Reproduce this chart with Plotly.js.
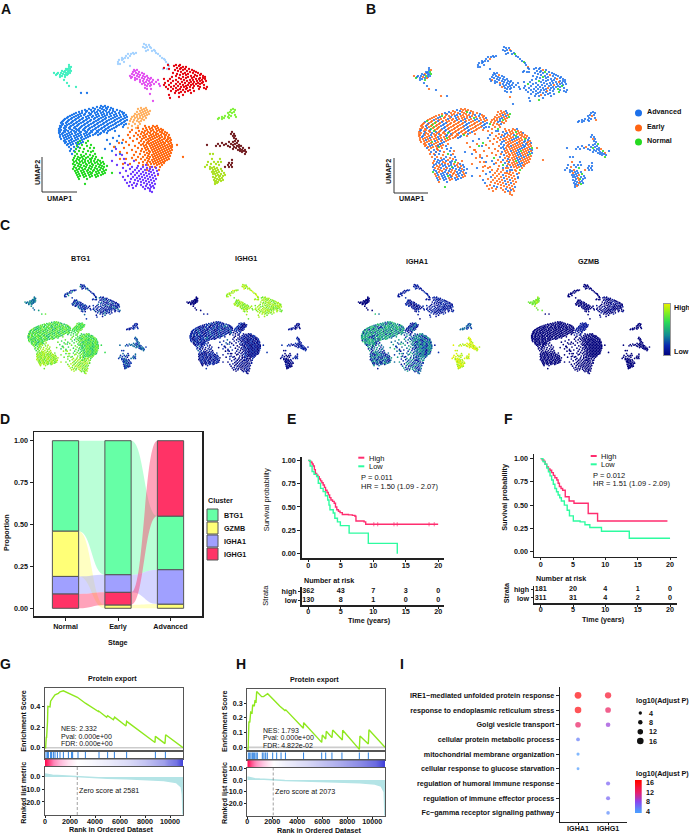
<!DOCTYPE html>
<html><head><meta charset="utf-8"><script src="https://cdn.plot.ly/plotly-3.0.0.min.js"></script>
<style>html,body{margin:0;padding:0;background:#fff}#c{width:689px;height:834px}</style></head>
<body><div id="c"></div><script>
// ---------- UMAP embedding, estimated cell positions: [UMAP2, UMAP1, UMAP1, ...] ----------
const blueRows=[[11,-49,-45],[10,-53,-47,-42],[9,-57,-50,-44,-39],[8,-61,-55,-48,-43,-37],[7,-65,-59,-52,-46,-40,-33],[6,-68,-63,-56,-50,-44,-37,-30],[5,-71,-64,-58,-53,-47,-41,-35,-28],
[4,-74,-68,-61,-55,-49,-43,-38,-31,-26],[3,-76,-70,-65,-59,-52,-46,-40,-34,-27],[2,-78,-72,-66,-60,-54,-48,-43,-36,-30,-24],[1,-80,-74,-69,-62,-57,-51,-45,-39,-33,-26],[0,-82,-76,-71,-64,-58,-53,-47,-41,-35,-29,-23],
[-1,-83,-78,-72,-67,-61,-55,-49,-44,-37,-31,-25],[-2,-85,-79,-74,-68,-63,-56,-51,-45,-39,-33,-27],[-3,-86,-81,-75,-70,-64,-59,-52,-47,-41,-35,-29,-23],[-4,-87,-82,-77,-71,-66,-60,-54,-48,-43,-36,-30,-25],
[-5,-88,-83,-78,-73,-67,-62,-56,-50,-44,-38,-32,-26],[-6,-89,-84,-79,-74,-69,-63,-57,-52,-46,-40,-34,-28],[-7,-87,-81,-76,-71,-65,-59,-53,-47,-42,-35,-29,-24],[-8,-88,-83,-77,-72,-66,-61,-55,-49,-43,-37,-31,-26],
[-9,-90,-85,-79,-73,-68,-62,-56,-51,-45,-39,-33],[-10,-89,-84,-80,-75,-69,-64,-58,-52,-46,-41,-34,-27],[-11,-90,-86,-81,-76,-70,-65,-60,-54,-48,-42,-36],[-12,-91,-85,-80,-74,-71,-66,-61,-55,-49,-44,-38],
[-13,-89,-84,-78,-73,-67,-62,-57,-51,-45,-40],[-14,-91,-86,-82,-76,-71,-65,-59,-53,-47,-42,-35],[-15,-90,-85,-79,-74,-69,-63,-58,-52,-46],[-16,-91,-87,-81,-75,-70,-64,-60,-54,-49,-43],[-17,-88,-83,-78,-72,-66,-61,-55,-50],
[-18,-90,-85,-80,-74,-69,-63,-57,-52],[-19,-87,-82,-76,-71,-65,-60,-31],[-20,-90,-84,-79,-73,-68,-62],[-21,-86,-81,-75,-69,-64,-37],[-22,-89,-83,-78,-72,-66],[-23,-85,-79,-74,-68,-43],[-24,-86,-81,-76,-70,-33],[-25,-84,-78,-72,-67],
[-26,-85,-80,-74,-69,-28],[-27,-82,-77,-71,-40],[-28,-83,-79,-73],[-30,-81,-76,-72,-35],[-32,-79,-74,-45],[-34,-80,-76,-38],[-37,-78,-30],[24,-69,-63]];
const greenRows=[[-24,-70,-62],[-26,-72,-64],[-28,-68,-59],[-29,-73,-63],[-31,-70,-60,-56],[-32,-74,-66],[-34,-71,-62,-57],[-35,-75,-67,-59],[-37,-73,-64,-55],[-38,-69,-60],[-39,-75,-66,-57],
[-40,-72,-68,-62,-54],[-41,-76,-70,-64,-58,-48],[-42,-73,-67,-60,-55],[-43,-77,-71,-65,-59,-52],[-44,-74,-68,-62,-56,-50],[-45,-76,-70,-65,-59,-53,-47],[-46,-73,-67,-61,-55,-49],[-47,-77,-71,-64,-58,-52,-46],
[-48,-75,-69,-63,-57,-50],[-49,-72,-66,-60,-54,-48,-43],[-50,-76,-70,-64,-58,-51,-46],[-51,-74,-68,-61,-55,-49],[-52,-77,-71,-65,-59,-53,-47],[-53,-73,-67,-62,-56,-50,-44],[-54,-75,-69,-63,-57,-52,-46],[-55,-72,-66,-60,-54,-48],
[-56,-74,-68,-62,-58,-51,-45,-38],[-57,-71,-65,-59,-53,-47],[-58,-73,-67,-61,-55,-49],[-59,-70,-64,-58,-52],[-60,-72,-66,-60,-54],[-62,-71,-63],[-67,-65]];
const orangeRows=[[-9,-5,3,7],[-10,-1,5],[-11,-12,-4,2,8],[-12,-7,0,6,11],[-13,-18,-3,3,9,13],[-14,-11,-5,1,7,12],[-15,-20,-8,-2,4,10,15],[-16,-14,-6,0,6,12,17],[-17,-9,-3,3,8,14],[-18,-22,-12,-5,1,6,11,16,19],[-19,-16,-7,-1,4,9,15],
[-20,-10,-4,2,7,12,18],[-21,-20,-6,0,5,10,15,20],[-22,-13,-8,-2,3,9,14,18],[-23,-27,-4,1,7,12,17,21],[-24,-17,-9,-1,5,10,16,20],[-25,-24,-6,-2,3,8,13,18],[-26,-31,-11,-3,1,6,11,15,21],[-27,-7,-1,4,9,14,19],[-28,-21,-9,-4,2,7,12,17,22,27],
[-29,-15,-6,0,5,10,15,20],[-30,-36,-3,3,8,13,18,22],[-31,-26,-12,-5,1,6,11,16,21],[-32,-8,-2,4,9,14,19],[-33,-18,-4,2,7,12,17,22],[-34,-9,-1,5,10,15,20],[-35,-30,-14,-6,0,3,8,13,18],[-36,-23,-3,6,11,16,21],[-37,-10,-1,4,9,14,19],
[-38,-16,-5,2,7,12,17],[-39,-2,5,10,15,20],[-40,-12,-7,0,3,8,13,18,33],[-41,-18,-3,6,11,16],[-42,-24,-30,-9,-1,4,9,14,19],[-43,-14,-5,2,7,12,17],[-44,-2,5,10,15],[-45,-7,0,3,8,13],[-46,-11,-3,6,11,14],[-47,-20,-27,1,4,9],[-48,-7,-2,7,12],[-50,0,5,10],[-53,-3,9],[-58,8]];
const violetRows=[[-32,-34],[-38,-34,-28],[-42,-26],[-44,-38,-16],[-46,-25],[-48,-33,-22,-4],[-49,-12],[-50,-18,-7,2],[-51,-27,-13,-3,6],[-52,-20,-9,0],[-53,-15,-5,3],[-54,-24,-11,-1,7],[-55,-17,-7,1],[-56,-30,-13,-4,4],[-57,-19,-9,-1,8],[-58,-15,-6,2],
[-59,-22,-11,-3,5],[-60,-27,-17,-8,0],[-61,-13,-5,3],[-62,-19,-10,-2,6],[-63,-25,-15,-7,1],[-64,-12,-4,4],[-65,-20,-9,-1],[-66,-23,-16,-6,2],[-67,-13,-3,5],[-68,-18,-9,0],[-69,-21,-14,-4,3],[-70,-7,1],[-71,-17,-2,4],[-72,-5,0],[-74,0],[-75,2]];
const peachRows=[[9,-9,-4],[8,-12,-6],[7,-3,-8],[6,-10,-5,0],[5,-13,-7,-2],[4,-9,-4],[3,-15,-11,-6,-1],[2,-13,-8,-3],[1,-16,-10,-5],[0,-18,-13,-7],[-1,-15,-10,-4],[-2,-19,-12,-8],[-3,-16,-6],[-4,-20,-13,-9],[-5,-17,-11],[-7,-21,-15,-10],[-9,-18,-12],[-11,-22,-14]];
const tealRows=[[52,-81],[50,-81,-79],[48,-84,-82,-80],[47,-83],[46,-88,-85,-81,-79],[45,-86,-82],[44,-96,-92,-89,-84,-80],[43,-93,-87,-82],[42,-94,-90,-85,-83],[41,-88],[40,-90,-85],[37,-86],[34,-83],[31,-81],[30,-74]];
const lightblueRows=[[73,-6],[72,-4,-1],[70,-7,-3,0],[69,-5,1],[67,-2,4],[66,-4,2,5],[64,-17,-14,6],[63,-22,-19,-16,8],[61,-24,-20,10],[59,-28,-25,-22,12],[58,-27,14],[57,-31,-28,15],[55,-32,-26,16],[53,-32,-30,18],[51,-20,19],[48,13,17]];
const magentaRows=[[47,-16,-13],[46,-15],[45,-17,-11],[44,-14,-8],[43,-18,-12,-6],[42,-16,-10],[41,-20,-13,-7,-3],[40,-18,-11,-5],[39,-19,-15,-8,-2,1],[38,-13,-6,0],[37,-15,-10,-3,3,8],[36,-7,-1],[35,-10,-4,2,6],[34,-6,0],[33,-8,-2,4,9],[32,-5,1],[31,-3,0,10],[29,-5],[28,-3,1],[23,0],[16,3]];
const redRows=[[52,18,26,30],[51,24,29],[50,33,36],[49,14,27,31],[48,19,30,35,39],[47,25,33,42],[46,28,37,44],[45,31,40,46],[44,23,35,43,48],[43,27,33,38,51],[42,30,36,45,50],[41,26,41,47,53],[40,22,33,38,44,55],[39,29,36,42,50,53],[38,14,20,31,46,49,55],[37,26,34,40,43,52],
[36,18,23,37,47,50,56],[35,28,32,41,44,53],[34,15,21,35,39,48,52],[33,26,30,43,46,50],[32,14,19,33,38,41,54],[31,24,28,36,44,48],[30,16,21,31,34,40,50,57],[29,26,37,43,54],[28,18,23,30,36,49,56],[27,28,33,40],[26,21,26,38,44],[25,31,35],[24,25,29,41],[22,19,33],[20,29],[19,20]];
const limeRows=[[8,83],[7,81,85],[5,80,84],[4,78,82],[2,79,85],[1,75,81],[0,72,78,86],[-1,69,74,79],[-2,68,72]];
const maroonRows=[[-15,82],[-17,81,84],[-19,83,85],[-21,84],[-22,86],[-24,85,88],[-25,79,83],[-26,72,87],[-27,68,76,81,85],[-28,57,74,83,89],[-29,66,70,78,87,91],[-30,84,80,89],[-31,86,93,99],[-32,83,90],[-33,88,92,95],[-34,90,94],[-35,92,96],[-37,95],[-43,82],[-46,79,82],[-48,78,81],[-50,75,79,82]];
const ygRows=[[-37,60,63],[-42,62,70],[-45,58,64,68,71],[-47,61,66],[-48,57,69],[-50,55,60,64],[-51,67,62],[-52,60,65,71],[-53,63,68],[-54,66,72],[-55,62,64,69],[-56,67,74],[-57,63,65,71],[-58,68,75],[-59,66,70,73],[-60,63,69],[-61,65,72],[-62,67,70],[-63,64,69,73],[-64,66,71],[-65,65,68],[-66,67],[-67,65]];
const umapRows=[blueRows,greenRows,orangeRows,violetRows,peachRows,tealRows,lightblueRows,magentaRows,redRows,limeRows,maroonRows,ygRows];
const clusterColors=['#1c76ea','#22d91f','#ff650c','#6b35ff','#ffb060','#3ff0c0','#a4d2ff','#e24ff0','#e4000c','#80f23a','#701a1e','#aae01e'];
// stage of the cells in each cluster (A advanced, E early, N normal)
const stageStrings=['EEAEEEAEEAEENEAEEEAEEAEA','AEAAEAEAAAEAEANEAEAEAAEEA','EEAEEAEEEAENEEAEEAEAE','EEAEEAEAEEE','EAEEAEEEN','AAEAANAAEAN','AAAAAEAAAAAANAAA','AAAAEAAAAAAA','AAAAAEAAAAAANAAA','AAAAAAE','AAAEAAAANAA','AAEAAAAAEAAN'];
const stageColors={A:'#1c70ea',E:'#ff6412',N:'#25da20'};
// scaled expression digits for each cluster
const exprBTG1=['67576767567','78878887','676577676','78887877','66767','343','122412','212132','121312','121','323','2231'];
const exprIGHG1=['120212311','1012','10201','1010','201','0','887898','78878','878788','101','1211','010'];
const exprIGHA1=['4534541354','31431','343142','2314','131','0','1121','1012','1211','323','98989','9898'];
const exprGZMB=['0','0','0','0','1','8777','0','0','0100','0','0','0'];
const exprScale=[[0,'#00007c'],[.2,'#0a28b0'],[.4,'#118a94'],[.65,'#2bdc55'],[.85,'#8cf01e'],[1,'#e0f000']];
const geneTitles=['BTG1','IGHG1','IGHA1','GZMB'];
const barLevels=[0,.2,.4,.6,.8,1];
// ---------- D: proportions ----------
const stages=['Normal','Early','Advanced'];
const clusterNames=['BTG1','GZMB','IGHA1','IGHG1'];
const propBTG1=[.54,.80,.32];
const propGZMB=[.27,.02,.025];
const propIGHA1=[.105,.105,.205];
const propIGHG1=[.085,.075,.45];
const stackOrder=[['IGHG1','IGHA1','GZMB','BTG1'],['GZMB','IGHG1','IGHA1','BTG1'],['GZMB','IGHA1','BTG1','IGHG1']];
const clusterFill=['#66ffa6','#ffff77','#a0a0ff','#ff3366'];
// ---------- E / F: survival ----------
const eHighT=[0,.2,.41,.6,.77,.95,1.1,1.3,1.5,1.7,1.9,2.1,2.3,2.5,2.67,2.9,3.1,3.3,3.5,3.75,4,4.2,4.4,4.65,4.9,5.25,6.2,6.8,7.2,7.35,8.6,8.85,20];
const eHighS=[1,.99,.98,.96,.94,.90,.86,.84,.825,.80,.78,.76,.735,.71,.68,.655,.63,.60,.575,.56,.54,.50,.47,.455,.44,.42,.415,.41,.40,.35,.34,.315,.315];
const eLowT=[0,.3,.6,.9,1.3,1.55,1.9,2.3,2.65,3,3.2,3.35,3.85,4.1,4.5,4.95,6.3,9.25,13.7,13.71];
const eLowS=[1,.94,.88,.85,.825,.755,.70,.665,.62,.575,.52,.47,.435,.38,.34,.30,.22,.11,.11,0];
const eCensorT=[10.1,10.7,13.2,13.7,18.6,19.4];
const eRiskHigh=[362,43,7,3,0];
const eRiskLow=[130,8,1,0,0];
const fHighT=[0,.25,.5,.7,.93,1.2,1.44,1.7,1.96,2.2,2.5,2.7,2.9,3.15,3.4,3.8,4.4,5.15,7.35,8.8,19.6];
const fHighS=[1,.985,.97,.94,.91,.89,.875,.85,.82,.795,.77,.735,.70,.68,.66,.59,.545,.52,.41,.33,.33];
const fLowT=[0,.35,.67,.95,1.2,1.45,1.7,1.95,2.2,2.45,2.7,2.95,3.2,3.66,4.1,4.45,5.05,6.1,6.85,7.6,9.4,13.7,20];
const fLowS=[1,.97,.94,.90,.86,.815,.77,.725,.68,.645,.61,.58,.545,.50,.445,.385,.33,.32,.29,.26,.22,.145,.145];
const fRiskHigh=[181,20,4,1,0];
const fRiskLow=[311,31,4,2,0];
const riskTimes=[0,5,10,15,20];
// ---------- G / H: GSEA ----------
const gRank=[0,50,100,130,200,230,400,450,610,800,1070,1200,1470,1870,2210,2590,3230,4270,4290,4930,5010,5470,5570,6480,6530,8800,8830,9600,9650,11040];
const gES=[0,0,.10,.10,.25,.40,.395,.45,.48,.51,.525,.54,.55,.525,.51,.487,.43,.35,.355,.295,.31,.27,.295,.21,.255,.05,.11,.04,.125,0];
const gHits=[80,190,270,450,530,670,800,990,1200,1470,1870,2130,2210,2640,3230,4320,5010,5550,6530,8830,9630];
const gMetricX=[0,300,600,1000,1500,2000,2581,3500,5000,6500,8000,9500,10500,10900,10990,11040];
const gMetric=[2.4,1.8,1.4,1.1,.8,.4,0,-.5,-1,-1.4,-1.9,-2.8,-4.4,-8,-14,-30];
const gBarX=[0,300,700,1200,1800,2581,3500,5000,6500,8000,9500,10500,11040];
const gBar=[1,.8,.55,.35,.15,0,-.03,-.1,-.18,-.28,-.42,-.65,-1];
const hRank=[0,60,130,200,270,380,430,560,610,700,750,1150,1300,1470,1630,2610,3010,3080,4480,4510,5950,6000,6270,6320,6770,6830,7600,7630,8960,9010,9680,9730,11013];
const hES=[0,-.02,.175,.17,.24,.235,.29,.28,.315,.31,.38,.345,.345,.355,.365,.28,.25,.255,.13,.168,.034,.084,.057,.11,.066,.118,.05,.116,-.014,.077,.023,.12,0];
const hHits=[80,190,290,400,480,590,700,800,1200,1330,1470,1600,2030,2350,2700,3050,4500,5950,6270,6770,7570,8960,9680];
const hMetricX=[0,300,600,1000,1500,2073,3000,4500,6000,7500,9000,10200,10700,10950,11013];
const hMetric=[2.6,1.7,1.2,.8,.4,0,-.4,-.8,-1.2,-1.6,-2.2,-3.4,-5,-10,-31];
const hBarX=[0,300,700,1200,1700,2073,3000,4500,6000,7500,9000,10200,11013];
const hBar=[1,.75,.5,.3,.12,0,-.08,-.18,-.28,-.38,-.5,-.7,-1];
const gseaScale=[[0,'#3c3cd8'],[.25,'#8a8ae6'],[.4,'#d8d8f6'],[.5,'#ffffff'],[.65,'#ffc4e0'],[.8,'#ff80b4'],[1,'#ff0a50']];
// ---------- I: dot plot ----------
const terms=['IRE1−mediated unfolded protein response','response to endoplasmic reticulum stress','Golgi vesicle transport','cellular protein metabolic process','mitochondrial membrane organization','cellular response to glucose starvation','regulation of humoral immune response','regulation of immune effector process','Fc−gamma receptor signaling pathway'];
const ighaTerms=[0,1,2,3,4,5];
const ighaP=[16.4,16,12.4,5.5,3.2,2];
const ighgTerms=[0,1,2,6,7,8];
const ighgP=[14.8,12.6,8.6,6.8,6.6,4.8];
const sizeLegend=[4,8,12,16];
const colorLevels=[3,4,6,8,10,12,14,16,17.1];
const dotScale=[[0,'#4d9bff'],[.07,'#4d9bff'],[.35,'#8a45ee'],[.64,'#e81f6a'],[.92,'#ff0b10'],[1,'#ff0000']];

const W=689,H=834,F='Liberation Sans, Arial, sans-serif';
const fx=p=>p/W, fy=p=>1-p/H;
const layout={width:W,height:H,margin:{l:0,r:0,t:0,b:0},autosize:false,showlegend:false,paper_bgcolor:'#fff',plot_bgcolor:'rgba(0,0,0,0)',barmode:'overlay',annotations:[],shapes:[],font:{family:F,size:7,color:'#111'}};
const traces=[];
const tf={family:F,size:7.2,color:'#111',weight:700};
function panel(n,x0,x1,y0,y1,xa,ya){
 layout['xaxis'+n]=Object.assign({domain:[fx(x0),fx(x1)],anchor:'y'+n,showgrid:false,zeroline:false,tickfont:tf,ticklen:3,tickwidth:1,tickcolor:'#222'},xa);
 layout['yaxis'+n]=Object.assign({domain:[fy(y1),fy(y0)],anchor:'x'+n,showgrid:false,zeroline:false,tickfont:tf,ticklen:3,tickwidth:1,tickcolor:'#222'},ya);
 return {xaxis:'x'+n,yaxis:'y'+n};
}
function T(t,x,y,o={}){layout.annotations.push({text:t,x:fx(x),y:fy(y),xref:'paper',yref:'paper',showarrow:false,xanchor:o.a||'center',yanchor:'middle',textangle:o.r||0,font:{family:F,size:o.s||7.2,color:o.c||'#111',weight:o.w===undefined?700:o.w}});}
function L(x0,y0,x1,y1,c,w,d){layout.shapes.push({type:'line',xref:'paper',yref:'paper',x0:fx(x0),x1:fx(x1),y0:fy(y0),y1:fy(y1),line:{color:c,width:w,dash:d||'solid'}});}
function R(x0,y0,x1,y1,fill,lc,lw){layout.shapes.push({type:'rect',xref:'paper',yref:'paper',x0:fx(x0),x1:fx(x1),y0:fy(y0),y1:fy(y1),fillcolor:fill,line:{color:lc,width:lw}});}
function C(cx,cy,d,fill){layout.shapes.push({type:'circle',xref:'paper',yref:'paper',x0:fx(cx-d/2),x1:fx(cx+d/2),y0:fy(cy-d/2),y1:fy(cy+d/2),fillcolor:fill,line:{width:0}});}
const hidden={visible:false};

// flatten embedding
const U=[],V=[],CL=[],IDX=[];
umapRows.forEach((rows,c)=>{let i=0;rows.forEach(r=>{for(let k=1;k<r.length;k++){U.push(r[k]);V.push(r[0]);CL.push(c);IDX.push(i++);}});});
const pick=(arr)=>CL.map((c,i)=>{const s=arr[c];return s[IDX[i]%s.length];});
// A
let a=panel(1,0,345,30,205,Object.assign({range:[-150,195]},hidden),Object.assign({range:[-88,87]},hidden));
traces.push(Object.assign({type:'scatter',mode:'markers',x:U,y:V,marker:{size:2.3,color:CL.map(c=>clusterColors[c]),line:{width:0}},hoverinfo:'skip'},a));
// B
a=panel(2,360,689,33,208,Object.assign({range:[-150,179]},hidden),Object.assign({range:[-88,87]},hidden));
traces.push(Object.assign({type:'scatter',mode:'markers',x:U,y:V,marker:{size:2.2,color:pick(stageStrings).map(s=>stageColors[s]),line:{width:0}},hoverinfo:'skip'},a));
// C
[[88,exprBTG1],[250,exprIGHG1],[421.5,exprIGHA1],[591.5,exprGZMB]].forEach((g,i)=>{
 const b=panel(3+i,g[0]-80,g[0]+80,329-54,329+54,Object.assign({range:[5.5-129,5.5+129]},hidden),Object.assign({range:[-91,89]},hidden));
 traces.push(Object.assign({type:'scatter',mode:'markers',x:U,y:V,marker:{size:1.7,color:pick(g[1]).map(Number),cmin:0,cmax:9,colorscale:exprScale,line:{width:0}},hoverinfo:'skip'},b));
});
[[80,258.7],[246,258.7],[417.3,261.7],[588,261.7]].forEach((p,i)=>T(geneTitles[i],p[0],p[1]));
// expression colour key
a=panel(21,664,670,304,355,Object.assign({range:[0,1],showline:true,mirror:true,linecolor:'#999',linewidth:1,showticklabels:false,ticks:''}),{range:[0,1],showline:true,mirror:true,linecolor:'#999',linewidth:1,showticklabels:false,ticks:''});
traces.push(Object.assign({type:'heatmap',x:[0,1],y:barLevels,z:barLevels.map(v=>[v,v]),zmin:0,zmax:1,colorscale:exprScale,showscale:false,zsmooth:'best',hoverinfo:'skip'},a));
T('High',672,308,{a:'left'});T('Low',672,351,{a:'left'});
// UMAP arrows
L(42,157,42,192,'#333',1);L(42,192,77,192,'#333',1);T('UMAP1',59,199);T('UMAP2',37,173,{r:-90});
L(394,158,394,193,'#333',1);L(394,193,428,193,'#333',1);T('UMAP1',411,199);T('UMAP2',388,172,{r:-90});
[['Advanced','A',113],['Early','E',128],['Normal','N',142]].forEach(r=>{C(638.5,r[2],7,stageColors[r[1]]);T(r[0],644.5,r[2]-1.5,{a:'left'});});
// D
a=panel(7,34,202,432,616,{range:[-.6,2.6],tickvals:[0,1,2],ticktext:stages,ticks:'outside',showline:true,mirror:true,linecolor:'#222',linewidth:1.5},{range:[-.046,1.052],tickvals:[0,.25,.5,.75,1],ticktext:['0.00','0.25','0.50','0.75','1.00'],ticks:'outside',showline:true,mirror:true,linecolor:'#222',linewidth:1.5});
const propBy={BTG1:propBTG1,GZMB:propGZMB,IGHA1:propIGHA1,IGHG1:propIGHG1};
const base={};clusterNames.forEach(n=>base[n]=[0,0,0]);
stackOrder.forEach((ord,s)=>{let acc=0;ord.forEach(n=>{base[n][s]=acc;acc+=propBy[n][s];});});
clusterNames.forEach((n,k)=>{
 for(let s=0;s<2;s++){
  const x0=s+.25,x1=s+.75,m=s+.5;
  const t0=base[n][s]+propBy[n][s],t1=base[n][s+1]+propBy[n][s+1],b0=base[n][s],b1=base[n][s+1];
  layout.shapes.push({type:'path',layer:'below',xref:'x7',yref:'y7',path:`M ${x0} ${t0} C ${m} ${t0} ${m} ${t1} ${x1} ${t1} L ${x1} ${b1} C ${m} ${b1} ${m} ${b0} ${x0} ${b0} Z`,fillcolor:clusterFill[k],opacity:.45,line:{width:0}});
 }
 traces.push(Object.assign({type:'bar',x:[0,1,2],y:propBy[n],base:base[n],width:.5,marker:{color:clusterFill[k],line:{color:'#555',width:1}},hoverinfo:'skip'},a));
});
T('Proportion',6,533,{r:-90});T('Stage',118,642);T('Cluster',206,500,{a:'left'});
clusterNames.forEach((n,k)=>{const y=[515,528,541,554][k];R(207,y-6,218,y+6,clusterFill[k],'#555',1);T(n,222,y,{a:'left'});});
// survival
const survAxes=(xr,yr)=>[{range:xr,tickvals:riskTimes,ticks:'outside',ticklen:2,ticklabelstandoff:-2,showline:true,linecolor:'#222',linewidth:1.5},{range:yr,tickvals:[0,.25,.5,.75,1],ticktext:['0.00','0.25','0.50','0.75','1.00'],ticks:'outside',showline:true,linecolor:'#222',linewidth:1.5}];
const HI='#ff2d6f',LO='#2dfca0';
function line(x,y,c,w,ax,shape){traces.push(Object.assign({type:'scatter',mode:'lines',x,y,line:{color:c,width:w,shape:shape||'hv'},hoverinfo:'skip'},ax));}
function risk(n,x0,x1,y0,y1,xr,yr,hi,lo){
 const b=panel(n,x0,x1,y0,y1,{range:xr,tickvals:riskTimes,ticks:'outside',ticklen:2,ticklabelstandoff:-3,showline:true,linecolor:'#222',linewidth:1.5},{range:yr,tickvals:[1,0],ticktext:['high','low'],ticks:'outside',ticklen:2,showline:true,linecolor:'#222',linewidth:1.5});
 traces.push(Object.assign({type:'scatter',mode:'text',x:riskTimes,y:riskTimes.map(()=>1),text:hi.map(String),textfont:tf,textposition:'middle center',hoverinfo:'skip',cliponaxis:false},b));
 traces.push(Object.assign({type:'scatter',mode:'text',x:riskTimes,y:riskTimes.map(()=>0),text:lo.map(String),textfont:tf,textposition:'middle center',hoverinfo:'skip',cliponaxis:false},b));
}
let sa=survAxes([-1,20.9],[-.05,1.039]);a=panel(8,301.7,444,456.7,558.3,sa[0],sa[1]);
line(eHighT,eHighS,HI,1.4,a);line(eLowT,eLowS,LO,1.4,a);
traces.push(Object.assign({type:'scatter',mode:'markers',x:eCensorT,y:eCensorT.map(()=>.315),marker:{symbol:'line-ns-open',size:3,color:HI,line:{color:HI,width:.7}},hoverinfo:'skip'},a));
risk(9,301.7,444,586.7,605,[-1,20.9],[-.57,1.53],eRiskHigh,eRiskLow);
L(358.3,457.7,364.3,457.7,HI,2);L(358.3,466.3,364.3,466.3,LO,2);T('High',366.7,458,{a:'left',w:400,s:7.5});T('Low',366.7,466.5,{a:'left',w:400,s:7.5});
T('P = 0.011',359,477,{a:'left',w:400,s:7.5});T('HR = 1.50 (1.09 - 2.07)',359,486.3,{a:'left',w:400,s:7.5});
T('Survival probability',266.3,500,{r:-90,w:400,s:7.5});T('Number at risk',301.7,580.3,{a:'left'});T('Strata',266,595.7,{r:-90,w:400,s:7.5});T('Time (years)',369.7,620);
sa=survAxes([-1.03,21.03],[-.054,1.047]);a=panel(10,534,676.7,454.3,556.7,sa[0],sa[1]);
line(fHighT,fHighS,HI,1.4,a);line(fLowT,fLowS,LO,1.4,a);
risk(11,534,676.7,585.7,603.3,[-1.03,21.03],[-.64,1.48],fRiskHigh,fRiskLow);
L(590.7,456,596.7,456,HI,2);L(590.7,464.3,596.7,464.3,LO,2);T('High',599,456.3,{a:'left',w:400,s:7.5});T('Low',599,464.5,{a:'left',w:400,s:7.5});
T('P = 0.012',591,475,{a:'left',w:400,s:7.5});T('HR = 1.51 (1.09 - 2.09)',591,484,{a:'left',w:400,s:7.5});
T('Survival probability',505,497.7,{r:-90});T('Number at risk',534.3,578.7,{a:'left'});T('Strata',506,593.3,{r:-90});T('Time (years)',603,619);
// GSEA
function gsea(n,p){
 const xr=[0,p.xmax];const box={showline:true,mirror:true,linecolor:'#555',linewidth:1.2};
 let b=panel(n,p.x0,p.x1,p.es[0],p.es[1],Object.assign({range:xr,showticklabels:false,ticks:''},box),Object.assign({range:p.esr,tickvals:p.est,ticktext:p.estt,ticks:'outside',ticklen:2},box));
 line(xr,[0,0],'#cccccc',1.6,b,'linear');
 line(p.rank,p.es_,'#8fe81e',1.4,b,'linear');
 b=panel(n+1,p.x0,p.x1,p.rug[0],p.rug[1],Object.assign({range:xr,showticklabels:false,ticks:''},box),Object.assign({range:[0,1],showticklabels:false,ticks:''},box));
 const rx=[],ry=[];p.hits.forEach(h=>{rx.push(h,h,null);ry.push(0,1,null);});
 line(rx,ry,'#2a7fe0',1,b,'linear');
 b=panel(n+2,p.x0,p.x1,p.bar[0],p.bar[1],{range:xr,showticklabels:false,ticks:''},{range:[0,1],showticklabels:false,ticks:''});
 traces.push(Object.assign({type:'heatmap',x:p.barX,y:[0,1],z:[p.barZ,p.barZ],zmin:-1,zmax:1,colorscale:gseaScale,showscale:false,zsmooth:'best',hoverinfo:'skip'},b));
 b=panel(n+3,p.x0,p.x1,p.m[0],p.m[1],Object.assign({range:xr,tickvals:[0,2000,4000,6000,8000,10000],tickformat:'d',ticks:'outside',ticklen:2,ticklabelstandoff:-3},box),Object.assign({range:p.mr,tickvals:p.mt,ticktext:p.mtt,ticks:'outside',ticklen:2},box));
 traces.push(Object.assign({type:'scatter',mode:'lines',x:p.mx,y:p.my,fill:'tozeroy',fillcolor:'#b4e4e6',line:{color:'#b4e4e6',width:1.5},hoverinfo:'skip'},b));
 traces.push(Object.assign({type:'scatter',mode:'lines',x:[p.zero,p.zero],y:p.mr,line:{color:'#888',width:.8,dash:'3px,2px'},hoverinfo:'skip'},b));
 T('Protein export',p.tx,p.ty);T('Rank in Ordered Dataset',p.lx,p.ly);
 T('Enrichment Score',p.yl,721,{r:-90});T('Ranked list metric',p.yl,793,{r:-90});
 p.txt.forEach((s,i)=>T(s,p.tx0,p.tys[i],{a:'left',w:400,s:7}));
 T('Zero score at '+p.zero,p.zx,p.zy,{a:'left',w:400,s:7.2});
}
gsea(12,{x0:45,x1:183,es:[688.3,750.3],esr:[-.025,.574],est:[0,.2,.4],estt:['0.0','0.2','0.4'],rug:[751.7,758.3],bar:[759.3,766.7],m:[766.7,815],mr:[-30.4,8.2],mt:[0,-10,-20],mtt:['0.0','-10.0','-20.0'],xmax:11040,rank:gRank,es_:gES,hits:gHits,barX:gBarX,barZ:gBar,mx:gMetricX,my:gMetric,zero:2581,tx:112,ty:678,lx:111,ly:829,yl:22.7,txt:['NES: 2.332','Pval: 0.000e+00','FDR: 0.000e+00'],tx0:59,tys:[728.5,736,743.5],zx:77.3,zy:790});
gsea(16,{x0:247.3,x1:385,es:[689,750],esr:[-.018,.397],est:[0,.1,.2,.3],estt:['0.0','0.1','0.2','0.3'],rug:[752.3,759.3],bar:[760.3,768],m:[768,815.5],mr:[-30,10.2],mt:[10,0,-10,-20],mtt:['10.0','0.0','-10.0','-20.0'],xmax:11013,rank:hRank,es_:hES,hits:hHits,barX:hBarX,barZ:hBar,mx:hMetricX,my:hMetric,zero:2073,tx:314,ty:679,lx:319.3,ly:830,yl:224,txt:['NES: 1.793','Pval: 0.000e+00','FDR: 4.822e-02'],tx0:261,tys:[730,737.5,745],zx:273,zy:791});
// I
a=panel(20,560,626.7,686.7,821.7,{range:[-.6,1.62],tickvals:[0,1],ticktext:['IGHA1','IGHG1'],ticks:'outside',ticklen:2,ticklabelstandoff:-3,showline:true,linecolor:'#222',linewidth:1.2},{range:[8.6,-.586],tickvals:terms.map((t,i)=>i),ticktext:terms,ticks:'outside',showline:true,linecolor:'#222',linewidth:1.2});
const dia=v=>2.3+.27*v;
[[0,ighaTerms,ighaP],[1,ighgTerms,ighgP]].forEach(g=>{
 traces.push(Object.assign({type:'scatter',mode:'markers',x:g[1].map(()=>g[0]),y:g[1],marker:{size:g[2].map(dia),color:g[2],cmin:3,cmax:17.1,colorscale:dotScale,line:{width:0}},hoverinfo:'skip'},a));
});
T('log10(Adjust P)',634.3,700,{a:'left'});
sizeLegend.forEach((v,i)=>{const y=[713,722.3,731.7,741][i];C(640.3,y,dia(v),'#111');T(String(v),646.7,y,{a:'left'});});
T('log10(Adjust P)',634,773.3,{a:'left'});
a=panel(22,635,641.7,780,813.3,{range:[0,1],visible:false},{range:[3,17.1],visible:false});
traces.push(Object.assign({type:'heatmap',x:[0,1],y:colorLevels,z:colorLevels.map(v=>[v,v]),zmin:3,zmax:17.1,colorscale:dotScale,showscale:false,zsmooth:'best',hoverinfo:'skip'},a));
[[16,782.7],[12,792.3],[8,801.7],[4,811]].forEach(r=>T(String(r[0]),644,r[1],{a:'left'}));
// panel letters
[['A',6,8.5],['B',371,8.5],['C',5,225],['D',5,419],['E',291,419],['F',508,419],['G',5,664],['H',241,664],['I',402.3,664]].forEach(r=>T(r[0],r[1],r[2],{s:14}));
Plotly.newPlot('c',traces,layout,{displayModeBar:false,staticPlot:true});
</script></body></html>
